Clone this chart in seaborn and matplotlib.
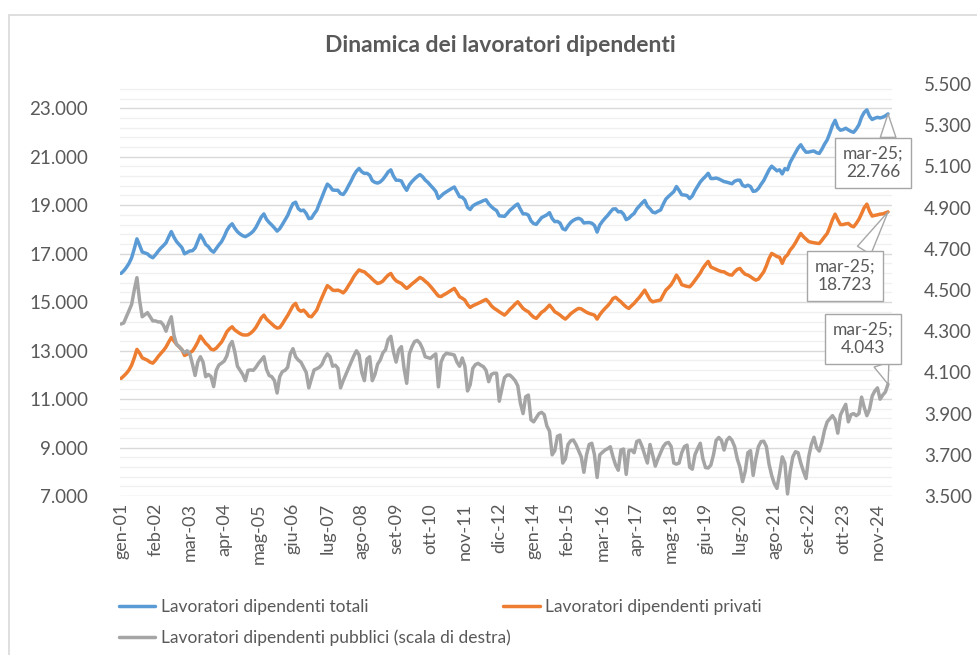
import pandas as pd
import seaborn as sns
import matplotlib.pyplot as plt
from matplotlib.ticker import FuncFormatter
from matplotlib.patches import Rectangle

# dati mensili gen-01 ... mar-25 (migliaia)
privati = [
    11850, 11950, 12060, 12200, 12400, 12700, 13050, 12900, 12700, 12650, 12600, 12520,  # 2001
    12480, 12600, 12750, 12880, 13000, 13150, 13350, 13540, 13400, 13260, 13150, 13040,  # 2002
    12800, 12850, 12920, 12980, 13150, 13350, 13600, 13450, 13300, 13200, 13060, 13030,  # 2003
    13100, 13227, 13350, 13550, 13776, 13900, 13982, 13850, 13776, 13700, 13650, 13640,  # 2004
    13650, 13720, 13820, 13960, 14150, 14350, 14464, 14300, 14200, 14100, 14000, 13930,  # 2005
    13950, 14100, 14280, 14450, 14650, 14850, 14947, 14700, 14620, 14671, 14560, 14420,  # 2006
    14394, 14530, 14671, 14950, 15200, 15450, 15680, 15600, 15495, 15480, 15495, 15450,  # 2007
    15380, 15500, 15680, 15850, 16050, 16200, 16330, 16280, 16250, 16150, 16060, 15950,  # 2008
    15850, 15771, 15800, 15870, 16000, 16114, 16182, 16000, 15880, 15820, 15771, 15660,  # 2009
    15566, 15650, 15750, 15837, 15930, 16019, 15960, 15860, 15771, 15650, 15520, 15380,  # 2010
    15250, 15230, 15300, 15359, 15430, 15500, 15566, 15400, 15219, 15160, 15083, 14900,  # 2011
    14780, 14850, 14900, 14947, 15000, 15060, 15112, 15000, 14850, 14750, 14680, 14601,  # 2012
    14530, 14464, 14570, 14700, 14800, 14920, 15013, 14880, 14740, 14660, 14601, 14480,  # 2013
    14380, 14328, 14450, 14580, 14650, 14760, 14877, 14750, 14601, 14540, 14464, 14370,  # 2014
    14300, 14400, 14520, 14601, 14680, 14740, 14720, 14650, 14580, 14533, 14500, 14464,  # 2015
    14300, 14480, 14620, 14740, 14850, 14980, 15150, 15200, 15100, 15013, 14900, 14800,  # 2016
    14740, 14850, 14950, 15080, 15200, 15350, 15495, 15300, 15100, 15013, 15040, 15070,  # 2017
    15090, 15300, 15495, 15600, 15720, 15900, 16114, 15950, 15720, 15680, 15650, 15632,  # 2018
    15750, 15900, 16050, 16200, 16400, 16550, 16680, 16450, 16400, 16350, 16300, 16260,  # 2019
    16250, 16180, 16130, 16114, 16250, 16350, 16390, 16250, 16150, 16114, 16050, 15970,  # 2020
    15908, 15950, 16100, 16250, 16500, 16800, 17009, 16950, 16880, 16850, 16600, 16850,  # 2021
    16950, 17150, 17281, 17450, 17650, 17833, 17700, 17600, 17500, 17470, 17450, 17430,  # 2022
    17419, 17550, 17700, 17833, 18100, 18400, 18630, 18400, 18200, 18200, 18230, 18245,  # 2023
    18150, 18107, 18250, 18420, 18650, 18900, 19043, 18750, 18550, 18580, 18600, 18630,  # 2024
    18640, 18680, 18723,                                                                  # 2025
]

pubblici = [
    4335, 4340, 4370, 4400, 4430, 4500, 4560, 4450, 4370, 4380, 4390, 4370,  # 2001
    4350, 4350, 4345, 4345, 4330, 4300, 4340, 4370, 4280, 4235, 4225, 4210,  # 2002
    4195, 4205, 4190, 4140, 4085, 4150, 4176, 4150, 4079, 4090, 4080, 4031,  # 2003
    4110, 4136, 4145, 4155, 4180, 4230, 4250, 4200, 4130, 4110, 4090, 4060,  # 2004
    4110, 4112, 4110, 4125, 4145, 4160, 4176, 4115, 4085, 4079, 4060, 4000,  # 2005
    4080, 4104, 4110, 4125, 4190, 4215, 4176, 4160, 4150, 4125, 4100, 4025,  # 2006
    4070, 4112, 4118, 4125, 4140, 4170, 4190, 4176, 4130, 4135, 4120, 4025,  # 2007
    4060, 4090, 4120, 4150, 4180, 4205, 4185, 4100, 4060, 4165, 4176, 4060,  # 2008
    4090, 4140, 4160, 4195, 4210, 4260, 4275, 4200, 4150, 4209, 4225, 4120,  # 2009
    4047, 4190, 4225, 4250, 4255, 4242, 4215, 4176, 4172, 4168, 4180, 4190,  # 2010
    4030, 4150, 4180, 4193, 4190, 4188, 4184, 4150, 4130, 4170, 4130, 4010,  # 2011
    4040, 4120, 4138, 4144, 4135, 4128, 4110, 4055, 4090, 4096, 4096, 3960,  # 2012
    4020, 4075, 4087, 4087, 4075, 4060, 4035, 3950, 3900, 3982, 3990, 3870,  # 2013
    3860, 3880, 3900, 3906, 3895, 3840, 3815, 3700, 3720, 3790, 3796, 3660,  # 2014
    3680, 3750, 3768, 3772, 3750, 3720, 3690, 3615, 3700, 3750, 3756, 3700,  # 2015
    3590, 3700, 3712, 3723, 3730, 3739, 3690, 3650, 3625, 3723, 3728, 3605,  # 2016
    3720, 3723, 3710, 3765, 3770, 3740, 3700, 3660, 3750, 3700, 3645, 3680,  # 2017
    3710, 3740, 3756, 3760, 3740, 3660, 3655, 3660, 3710, 3740, 3747, 3640,  # 2018
    3630, 3700, 3730, 3756, 3680, 3638, 3636, 3650, 3700, 3770, 3784, 3770,  # 2019
    3723, 3770, 3785, 3770, 3740, 3680, 3640, 3570, 3620, 3710, 3720, 3600,  # 2020
    3680, 3740, 3764, 3766, 3740, 3655, 3600, 3560, 3537, 3610, 3690, 3660,  # 2021
    3510, 3620, 3690, 3715, 3710, 3660, 3620, 3585, 3690, 3750, 3785, 3735,  # 2022
    3718, 3760, 3820, 3860, 3875, 3890, 3870, 3805, 3893, 3920, 3945, 3860,  # 2023
    3895, 3900, 3890, 3900, 3980, 3930, 3890, 3920, 3985, 4010, 4025, 3970,  # 2024
    3990, 4005, 4043,                                                        # 2025
]

totali = [
    16185, 16290, 16430, 16600, 16830, 17200, 17610, 17350, 17070, 17030, 16990, 16890,  # 2001
    16830, 16950, 17095, 17225, 17330, 17450, 17690, 17910, 17680, 17495, 17375, 17250,  # 2002
    16995, 17055, 17110, 17120, 17235, 17500, 17776, 17600, 17379, 17290, 17140, 17061,  # 2003
    17210, 17363, 17495, 17705, 17956, 18130, 18232, 18050, 17906, 17810, 17740, 17700,  # 2004
    17760, 17832, 17930, 18085, 18295, 18510, 18640, 18415, 18285, 18179, 18060, 17930,  # 2005
    18030, 18204, 18390, 18575, 18840, 19065, 19123, 18860, 18770, 18796, 18660, 18445,  # 2006
    18464, 18642, 18789, 19075, 19340, 19620, 19870, 19776, 19625, 19615, 19615, 19475,  # 2007
    19440, 19590, 19800, 20000, 20230, 20405, 20515, 20380, 20310, 20315, 20236, 20010,  # 2008
    19940, 19911, 19960, 20065, 20210, 20374, 20457, 20200, 20030, 20029, 19996, 19780,  # 2009
    19613, 19840, 19975, 20087, 20185, 20261, 20175, 20036, 19943, 19818, 19700, 19570,  # 2010
    19280, 19380, 19480, 19552, 19620, 19688, 19750, 19550, 19349, 19330, 19213, 18910,  # 2011
    18820, 18970, 19038, 19091, 19135, 19188, 19222, 19055, 18940, 18846, 18776, 18561,  # 2012
    18550, 18539, 18657, 18787, 18875, 18980, 19048, 18830, 18640, 18642, 18591, 18350,  # 2013
    18240, 18208, 18350, 18486, 18545, 18600, 18692, 18450, 18321, 18330, 18260, 18030,  # 2014
    17980, 18150, 18288, 18373, 18430, 18460, 18410, 18265, 18280, 18283, 18256, 18164,  # 2015
    17890, 18180, 18332, 18463, 18580, 18719, 18840, 18850, 18725, 18736, 18628, 18405,  # 2016
    18460, 18573, 18660, 18845, 18970, 19090, 19195, 18960, 18850, 18713, 18685, 18750,  # 2017
    18800, 19040, 19251, 19360, 19460, 19560, 19769, 19610, 19430, 19420, 19397, 19272,  # 2018
    19380, 19600, 19780, 19956, 20080, 20188, 20316, 20100, 20100, 20120, 20084, 20030,  # 2019
    19973, 19950, 19915, 19884, 19990, 20030, 20030, 19820, 19770, 19824, 19770, 19570,  # 2020
    19588, 19690, 19864, 20016, 20240, 20455, 20609, 20510, 20417, 20460, 20290, 20510,  # 2021
    20460, 20770, 20971, 21165, 21360, 21493, 21320, 21185, 21190, 21220, 21235, 21165,  # 2022
    21137, 21310, 21520, 21693, 21975, 22290, 22500, 22205, 22093, 22120, 22175, 22105,  # 2023
    22045, 22007, 22140, 22320, 22630, 22830, 22933, 22670, 22535, 22590, 22625, 22600,  # 2024
    22630, 22685, 22766,                                                                  # 2025
]

etichette_x = ['gen-01', 'feb-02', 'mar-03', 'apr-04', 'mag-05', 'giu-06', 'lug-07',
               'ago-08', 'set-09', 'ott-10', 'nov-11', 'dic-12', 'gen-14', 'feb-15',
               'mar-16', 'apr-17', 'mag-18', 'giu-19', 'lug-20', 'ago-21', 'set-22',
               'ott-23', 'nov-24']

df = pd.DataFrame({'mese': range(len(totali)), 'totali': totali,
                   'privati': privati, 'pubblici': pubblici})

BLU = '#5b9bd5'
ARANCIO = '#ed7d31'
GRIGIO = '#a5a5a5'
TESTO = '#595959'

sns.set_theme(style='white')
plt.rcParams['font.family'] = ['Lato', 'DejaVu Sans']

fig = plt.figure(figsize=(9.77, 6.55), dpi=100)
ax = fig.add_axes([120 / 977, 1 - 496 / 655, 772 / 977, 412 / 655])
ax2 = ax.twinx()

sns.lineplot(data=df, x='mese', y='totali', ax=ax, color=BLU, linewidth=2.5,
             label='Lavoratori dipendenti totali')
sns.lineplot(data=df, x='mese', y='privati', ax=ax, color=ARANCIO, linewidth=2.5,
             label='Lavoratori dipendenti privati')
sns.lineplot(data=df, x='mese', y='pubblici', ax=ax2, color=GRIGIO, linewidth=2.5,
             label='Lavoratori dipendenti pubblici (scala di destra)')

h1, l1 = ax.get_legend_handles_labels()
h2, l2 = ax2.get_legend_handles_labels()
ax.get_legend().remove()
ax2.get_legend().remove()

fmt = FuncFormatter(lambda v, p: f'{v:,.0f}'.replace(',', '.'))

ax.set_xlim(-0.4, 291.5)
ax.set_ylim(7000, 24000)
ax.set_yticks(range(7000, 24001, 2000))
ax.set_yticks(range(7000, 24001, 400), minor=True)
ax.yaxis.set_major_formatter(fmt)
ax.grid(which='major', axis='y', color='#d9d9d9', linewidth=1)
ax.grid(which='minor', axis='y', color='#f0f0f0', linewidth=1)
ax.set_axisbelow(True)

ax2.set_ylim(3500, 5500)
ax2.set_yticks(range(3500, 5501, 200))
ax2.yaxis.set_major_formatter(fmt)
ax2.grid(False)

ax.set_xticks(range(0, len(totali), 13))
ax.set_xticklabels(etichette_x, rotation=90)
ax.set_xlabel('')
ax.set_ylabel('')
ax2.set_ylabel('')

for a in (ax, ax2):
    for s in a.spines.values():
        s.set_visible(False)
    a.tick_params(which='both', length=0, labelsize=13.5, colors=TESTO)
ax.tick_params(axis='x', labelsize=13, pad=5)
ax.tick_params(axis='y', pad=23)
ax2.tick_params(axis='y', pad=23)

fig.text(500 / 977, 1 - 45 / 655, 'Dinamica dei lavoratori dipendenti', ha='center',
         va='center', fontsize=16.5, fontweight='bold', color=TESTO)

# callout ultimo valore
ultimo = len(totali) - 1
box = dict(boxstyle='square,pad=0.45', fc='white', ec='#a6a6a6', lw=1)
callout = [
    (ax, totali[-1], (873, 655 - 163), (0.75, 1)),
    (ax, privati[-1], (845, 655 - 276), (0.73, 1)),
    (ax2, pubblici[-1], (863, 655 - 339), (0.76, 0)),
]
for a, val, pos, rel in callout:
    a.annotate('mar-25;\n' + fmt(val), xy=(ultimo, val), xytext=pos,
               textcoords='figure pixels', ha='center', va='center',
               fontsize=12.5, color=TESTO, bbox=box, annotation_clip=False,
               zorder=10,
               arrowprops=dict(arrowstyle='wedge,tail_width=0.9,shrink_factor=0.5',
                               fc='white', ec='#a6a6a6', lw=1, relpos=rel,
                               shrinkA=0, shrinkB=0))

fig.legend([h1[0], h2[0], h1[1]], [l1[0], l2[0], l1[1]], ncol=2, frameon=False,
           loc='upper left', bbox_to_anchor=(112 / 977, 1 - 592 / 655),
           fontsize=12.5, labelcolor=TESTO, handlelength=2.1, handletextpad=0.3,
           columnspacing=-0.4, labelspacing=0.85, borderaxespad=0)

fig.patches.append(Rectangle((9 / 977, -0.1), 1.2, 1.1 - 15 / 655, fill=False,
                             edgecolor='#d9d9d9', linewidth=1.2,
                             transform=fig.transFigure, figure=fig))

fig.savefig('out.png', dpi=100)
